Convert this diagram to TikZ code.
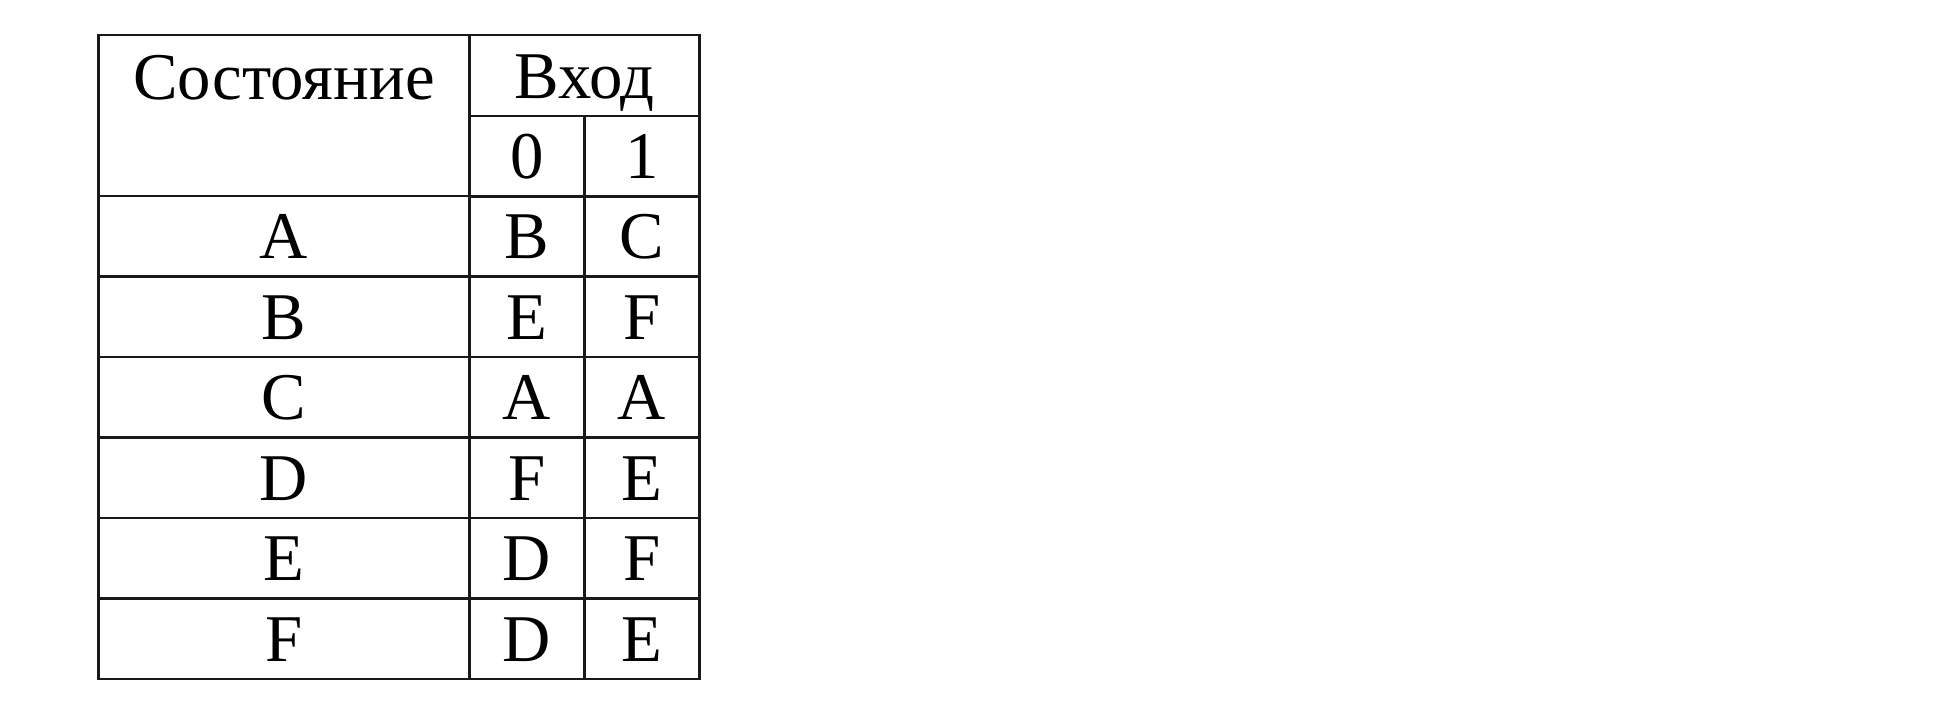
\documentclass[tikz,border=0pt]{standalone}
\usepackage{fontspec}
\setmainfont{Liberation Serif}
\usepackage{tikz}
\usetikzlibrary{positioning}

\begin{document}
\begin{tikzpicture}[
    cell/.style={rectangle, draw=black!90, line width=.7pt, inner sep=0pt, outer sep=0pt,
        minimum height=.805cm, text height=.45cm, text depth=0pt, font=\fontsize{19pt}{23pt}\selectfont},
    wide/.style={cell, minimum width=3.71cm},
    narrow/.style={cell, minimum width=1.15cm}]

    \useasboundingbox (0,0) rectangle (19.58,-7.18);

    % Header
    \node[wide, minimum height=1.61cm, text height=.64cm, text depth=.97cm, anchor=north west] (state) at (0.985,-0.35) {Состояние};
    \node[cell, minimum width=2.3cm, minimum height=.81cm, below right=0 of state.north east] (input) {Вход};
    \node[narrow, below right=0 of input.south west] (in0) {0};
    \node[narrow, right=0 of in0] (in1) {1};

    % Row A
    \node[wide, below=0 of state] (sA) {A};
    \node[narrow, right=0 of sA] (a0) {B};
    \node[narrow, right=0 of a0] (a1) {C};

    % Row B
    \node[wide, below=0 of sA] (sB) {B};
    \node[narrow, right=0 of sB] (b0) {E};
    \node[narrow, right=0 of b0] (b1) {F};

    % Row C
    \node[wide, below=0 of sB] (sC) {C};
    \node[narrow, right=0 of sC] (c0) {A};
    \node[narrow, right=0 of c0] (c1) {A};

    % Row D
    \node[wide, below=0 of sC] (sD) {D};
    \node[narrow, right=0 of sD] (d0) {F};
    \node[narrow, right=0 of d0] (d1) {E};

    % Row E
    \node[wide, below=0 of sD] (sE) {E};
    \node[narrow, right=0 of sE] (e0) {D};
    \node[narrow, right=0 of e0] (e1) {F};

    % Row F
    \node[wide, below=0 of sE] (sF) {F};
    \node[narrow, right=0 of sF] (f0) {D};
    \node[narrow, right=0 of f0] (f1) {E};
\end{tikzpicture}
\end{document}
